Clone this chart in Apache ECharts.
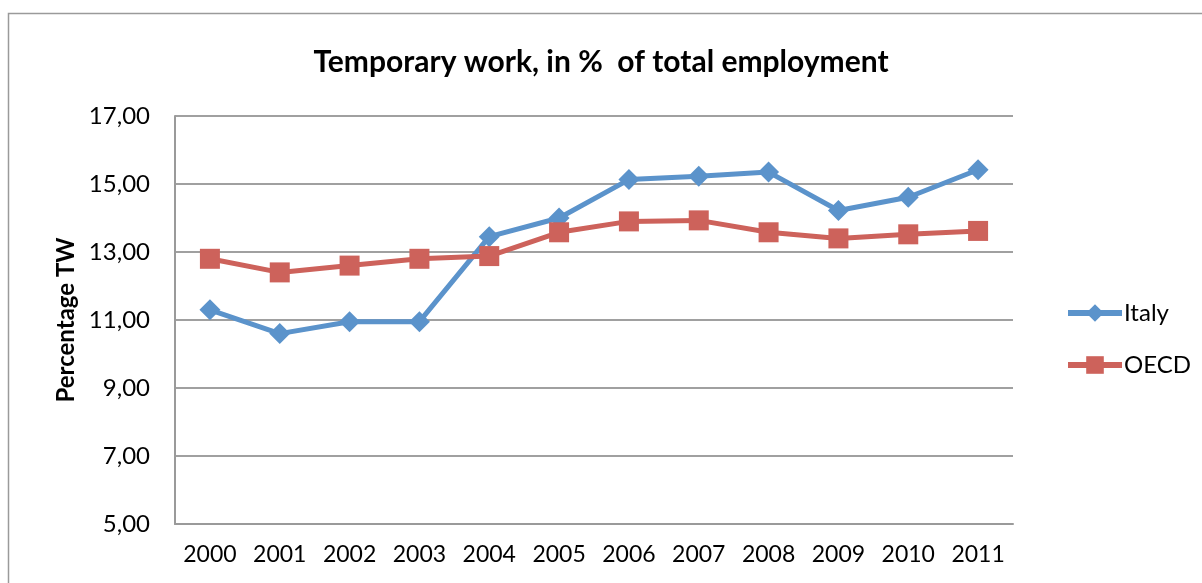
<!DOCTYPE html>
<html><head><meta charset="utf-8">
<script src="https://cdn.jsdelivr.net/npm/echarts@6/dist/echarts.min.js"></script>
<style>html,body{margin:0;padding:0;background:#fff}#c{width:1202px;height:583px}</style>
</head><body><div id="c"></div>
<script>
const years = ['2000','2001','2002','2003','2004','2005','2006','2007','2008','2009','2010','2011'];
const italy = [11.30, 10.60, 10.95, 10.95, 13.45, 14.00, 15.13, 15.23, 15.35, 14.22, 14.61, 15.42];
const oecd = [12.80, 12.40, 12.60, 12.80, 12.88, 13.58, 13.90, 13.93, 13.58, 13.40, 13.52, 13.62];
const FONT = 'Lato, "Open Sans", sans-serif';
const chart = echarts.init(document.getElementById('c'));
chart.setOption({
  animation: false,
  backgroundColor: '#fff',
  textStyle: { fontFamily: FONT, color: '#000' },
  graphic: [{ type: 'rect', shape: { x: 8.5, y: 13.5, width: 1300, height: 700 }, style: { fill: 'none', stroke: '#9a9a9a', lineWidth: 1.5 }, silent: true }],
  title: { text: 'Temporary work, in %  of total employment', left: 'center', top: 42,
    textStyle: { fontFamily: FONT, fontSize: 30, fontWeight: 'bold', color: '#000' } },
  grid: { left: 175, right: 189, top: 116, bottom: 59 },
  legend: { orient: 'vertical', left: 1060, top: 296, itemGap: 28, itemWidth: 54, itemHeight: 22,
    lineStyle: { width: 6 },
    textStyle: { fontFamily: FONT, fontSize: 24, color: '#000', padding: [0, 0, 0, -3] },
    data: ['Italy', 'OECD'] },
  xAxis: { type: 'category', data: years, boundaryGap: true,
    axisLine: { lineStyle: { color: '#9a9a9a', width: 2 } }, axisTick: { show: false },
    axisLabel: { interval: 0, fontFamily: FONT, fontSize: 23, color: '#000', margin: 19 } },
  yAxis: { type: 'value', min: 5, max: 17, interval: 2,
    name: 'Percentage TW', nameLocation: 'middle', nameGap: 97, nameRotate: 90,
    nameTextStyle: { fontFamily: FONT, fontSize: 24, fontWeight: 'bold', color: '#000' },
    axisLine: { show: true, lineStyle: { color: '#9a9a9a', width: 2 } }, axisTick: { show: false },
    splitLine: { lineStyle: { color: '#a0a0a0', width: 2 } },
    axisLabel: { fontFamily: FONT, fontSize: 24, color: '#000', margin: 25, formatter: v => v.toFixed(2).replace('.', ',') } },
  series: [
    { name: 'Italy', type: 'line', data: italy, symbol: 'diamond', symbolSize: 21,
      lineStyle: { color: '#5b93cb', width: 5 }, itemStyle: { color: '#5b93cb' } },
    { name: 'OECD', type: 'line', data: oecd, symbol: 'rect', symbolSize: 20,
      lineStyle: { color: '#cd625b', width: 5 }, itemStyle: { color: '#cd625b' } }
  ]
});
</script></body></html>
